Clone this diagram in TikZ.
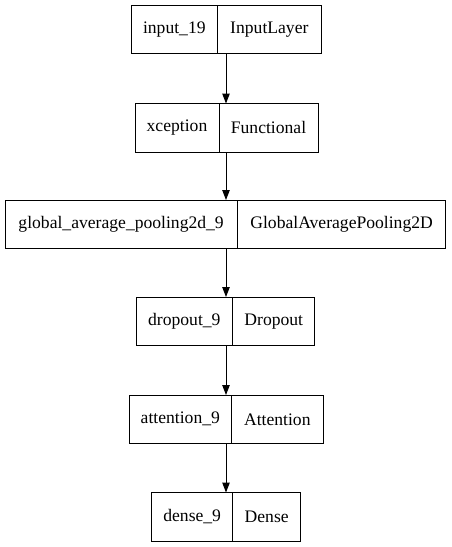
\documentclass[tikz,border=0pt]{standalone}
\usepackage{fontspec}
\setmainfont{Liberation Serif}
\usetikzlibrary{positioning,arrows.meta}

\tikzset{
  cell/.style={draw, line width=0.75pt, minimum height=36.4pt, inner sep=0pt,
    outer sep=0pt, font=\fontsize{13.2}{15}\selectfont},
  lcell/.style={cell, anchor=north west},
  edge/.style={line width=0.75pt, -{Triangle[length=7.5pt,width=5.6pt]}}
}

\begin{document}
\begin{tikzpicture}[x=0.75pt,y=0.75pt,yscale=-1,xscale=1]
\useasboundingbox (0,0) rectangle (452,547);

% spine for the arrows
\coordinate (spine) at (226,0);

% Layers
\node [lcell, minimum width=65pt] (in) at (131,5) {input\_19};
\node [cell, minimum width=77.5pt, right=0pt of in] (inT) {InputLayer};

\node [lcell, minimum width=63pt] (xc) at (135,103.5) {xception};
\node [cell, minimum width=74.3pt, right=0pt of xc] (xcT) {Functional};

\node [lcell, minimum width=174.2pt] (gap) at (5,200) {global\_average\_pooling2d\_9};
\node [cell, minimum width=156.5pt, right=0pt of gap] (gapT) {GlobalAveragePooling2D};

\node [lcell, minimum width=72.5pt] (drop) at (136,297) {dropout\_9};
\node [cell, minimum width=61.7pt, right=0pt of drop] (dropT) {Dropout};

\node [lcell, minimum width=77pt] (att) at (129,395) {attention\_9};
\node [cell, minimum width=68.5pt, right=0pt of att] (attT) {Attention};

\node [lcell, minimum width=60.75pt] (dense) at (151.7,492.5) {dense\_9};
\node [cell, minimum width=51pt, right=0pt of dense] (denseT) {Dense};

% Arrows
\draw [edge] (in.south -| spine) -- (xc.north -| spine);
\draw [edge] (xc.south -| spine) -- (gap.north -| spine);
\draw [edge] (gap.south -| spine) -- (drop.north -| spine);
\draw [edge] (drop.south -| spine) -- (att.north -| spine);
\draw [edge] (att.south -| spine) -- (dense.north -| spine);
\end{tikzpicture}
\end{document}
